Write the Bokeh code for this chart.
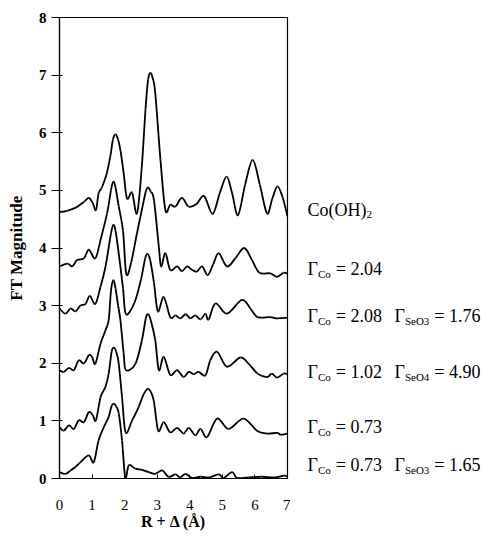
from bokeh.plotting import figure
from bokeh.models import Range1d, FixedTicker, ColumnDataSource
from bokeh.layouts import row
from bokeh.core.properties import value
from bokeh.embed import file_html
from bokeh.resources import INLINE

# ---- data ----
x_ticks = [0, 1, 2, 3, 4, 5, 6, 7]
y_ticks = [0, 1, 2, 3, 4, 5, 6, 7, 8]

r1 = [0, 0.25, 0.5, 0.75, 0.9, 1.02, 1.12, 1.2, 1.3, 1.44, 1.56, 1.64, 1.72, 1.8, 1.87, 1.97, 2.04, 2.1, 2.23, 2.38,
      2.52, 2.64, 2.72, 2.79, 2.86, 2.94, 3.1, 3.25, 3.4, 3.56, 3.76, 3.96, 4.2, 4.44, 4.7, 4.92, 5.13, 5.3, 5.48,
      5.7, 5.93, 6.15, 6.37, 6.53, 6.69, 6.85, 7.0]
v1 = [4.62, 4.65, 4.7, 4.8, 4.87, 4.78, 4.66, 4.95, 5.05, 5.27, 5.59, 5.88, 5.97, 5.88, 5.7, 5.3, 4.95, 4.85, 4.96, 4.6,
      5.36, 6.4, 6.92, 7.04, 6.95, 6.69, 5.53, 4.66, 4.75, 4.72, 4.87, 4.72, 4.76, 4.9, 4.59, 4.95, 5.24, 4.95, 4.57,
      5.1, 5.53, 5.1, 4.6, 4.85, 5.07, 4.88, 4.55]

r2 = [0, 0.24, 0.39, 0.54, 0.75, 0.9, 1.1, 1.26, 1.46, 1.58, 1.65, 1.72, 1.82, 1.95, 2.05, 2.2, 2.38, 2.59, 2.66, 2.72,
      2.8, 2.9, 3.05, 3.12, 3.25, 3.4, 3.61, 3.76, 3.92, 4.07, 4.22, 4.38, 4.55, 4.72, 4.89, 5.14, 5.4, 5.67, 5.91,
      6.14, 6.47, 6.68, 6.88, 7.0]
v2 = [3.68, 3.73, 3.68, 3.79, 3.82, 3.97, 3.82, 4.14, 4.6, 5.0, 5.15, 5.05, 4.72, 4.3, 3.55, 3.75, 4.26, 4.83, 5.0, 5.05,
      4.98, 4.83, 4.02, 3.68, 3.91, 3.62, 3.68, 3.6, 3.68, 3.62, 3.59, 3.68, 3.53, 3.72, 3.91, 3.68, 3.82, 4.0, 3.79,
      3.57, 3.56, 3.5, 3.57, 3.55]

r3 = [0, 0.18, 0.34, 0.49, 0.64, 0.8, 0.93, 1.1, 1.26, 1.41, 1.58, 1.65, 1.72, 1.82, 1.95, 2.04, 2.3, 2.5, 2.63, 2.7,
      2.78, 2.9, 3.02, 3.2, 3.4, 3.56, 3.71, 3.87, 4.02, 4.17, 4.33, 4.48, 4.58, 4.79, 5.14, 5.6, 5.86, 6.08, 6.47,
      6.68, 7.0]
v3 = [2.95, 2.86, 2.95, 2.9, 3.0, 3.03, 3.17, 3.03, 3.33, 3.67, 4.25, 4.4, 4.3, 3.9, 3.3, 2.85, 3.05, 3.45, 3.82, 3.9,
      3.8, 3.4, 2.9, 3.15, 2.8, 2.83, 2.78, 2.85, 2.78, 2.83, 2.76, 2.86, 2.76, 3.04, 2.86, 3.1, 2.95, 2.8, 2.8,
      2.78, 2.79]

r4 = [0, 0.13, 0.29, 0.44, 0.59, 0.75, 0.9, 1.0, 1.1, 1.26, 1.41, 1.51, 1.58, 1.65, 1.72, 1.8, 1.87, 1.97, 2.04, 2.33,
      2.53, 2.65, 2.72, 2.8, 2.94, 3.05, 3.2, 3.4, 3.61, 3.81, 3.97, 4.12, 4.27, 4.48, 4.63, 4.84, 5.14, 5.55, 5.81,
      6.08, 6.37, 6.52, 6.68, 6.88, 7.0]
v4 = [1.88, 1.85, 1.92, 1.88, 2.05, 2.0, 2.14, 2.11, 1.99, 2.34, 2.57, 2.75, 3.25, 3.44, 3.3, 3.0, 2.75, 2.17, 1.88, 1.99,
      2.4, 2.78, 2.85, 2.75, 2.4, 1.88, 2.11, 1.8, 1.88, 1.76, 1.85, 1.81, 1.85, 1.79, 2.05, 2.2, 1.94, 2.1, 1.99,
      1.82, 1.76, 1.82, 1.75, 1.82, 1.81]

r5 = [0, 0.13, 0.29, 0.44, 0.59, 0.75, 0.9, 1.02, 1.12, 1.26, 1.41, 1.51, 1.6, 1.67, 1.74, 1.82, 1.92, 2.03, 2.23,
      2.43, 2.59, 2.74, 2.89, 3.03, 3.2, 3.4, 3.61, 3.81, 3.97, 4.17, 4.33, 4.53, 4.84, 5.19, 5.65, 6.06, 6.37, 6.68,
      6.8, 7.0]
v5 = [0.89, 0.83, 0.92, 0.86, 1.01, 0.98, 1.15, 1.1, 1.01, 1.41, 1.59, 1.82, 2.2, 2.27, 2.2, 1.99, 1.41, 0.8, 1.01,
      1.24, 1.47, 1.55, 1.36, 0.83, 0.98, 0.8, 0.88, 0.78, 0.88, 0.75, 0.86, 0.72, 1.04, 0.86, 1.04, 0.83, 0.78, 0.79,
      0.76, 0.78]

r6 = [0, 0.18, 0.34, 0.49, 0.64, 0.9, 1.05, 1.2, 1.36, 1.51, 1.6, 1.67, 1.74, 1.82, 1.92, 2.02, 2.13, 2.33, 2.53, 2.74,
      2.94, 3.15, 3.35, 3.56, 3.71, 3.87, 4.07, 4.33, 4.6, 4.89, 5.04, 5.3, 5.45, 5.8, 6.2, 6.6, 6.9, 7.0]
v6 = [0.11, 0.08, 0.14, 0.2, 0.28, 0.4, 0.28, 0.66, 0.89, 1.07, 1.26, 1.3, 1.25, 1.13, 0.66, 0.02, 0.23, 0.17, 0.15,
      0.11, 0.08, 0.14, 0.03, 0.07, 0.02, 0.08, 0.01, 0.03, 0.02, 0.07, 0.01, 0.11, 0.01, 0.02, 0.03, 0.02, 0.05, 0.03]

series = [(r1, v1), (r2, v2), (r3, v3), (r4, v4), (r5, v5), (r6, v6)]

# label texts: groups of (text, is_subscript) pieces, and the data y of each label row
label_groups = [
    [[("Co(OH)", False), ("2", True)]],
    [[("\u0393", False), ("Co", True), ("= 2.04", False)]],
    [[("\u0393", False), ("Co", True), ("= 2.08", False)], [("\u0393", False), ("SeO3", True), ("= 1.76", False)]],
    [[("\u0393", False), ("Co", True), ("= 1.02", False)], [("\u0393", False), ("SeO4", True), ("= 4.90", False)]],
    [[("\u0393", False), ("Co", True), ("= 0.73", False)]],
    [[("\u0393", False), ("Co", True), ("= 0.73", False)], [("\u0393", False), ("SeO3", True), ("= 1.65", False)]],
]
label_y = [4.66, 3.63, 2.82, 1.84, 0.89, 0.23]

# ---- layout constants ----
SERIF = "Liberation Serif"
TOP, BOTTOM = 17, 58
H = 536
MAIN_W = 290        # frame from x=59 to 287
LAB_W = 483 - MAIN_W

p = figure(width=MAIN_W, height=H, output_backend="svg", toolbar_location=None,
           x_range=Range1d(0, 7), y_range=Range1d(0, 8),
           min_border_left=59, min_border_right=3, min_border_top=TOP, min_border_bottom=BOTTOM)
p.background_fill_color = "white"
p.border_fill_color = "white"
p.grid.visible = False
p.outline_line_color = "black"
p.outline_line_width = 1.2


def smooth_segments(r, v):
    """Catmull-Rom style control points for drawing the read points as a smooth curve."""
    n = len(r)
    out = {k: [] for k in ("x0", "y0", "x1", "y1", "cx0", "cy0", "cx1", "cy1")}
    for i in range(n - 1):
        a = max(i - 1, 0)
        d = min(i + 2, n - 1)
        out["x0"].append(r[i]); out["y0"].append(v[i])
        out["x1"].append(r[i + 1]); out["y1"].append(v[i + 1])
        out["cx0"].append(r[i] + (r[i + 1] - r[a]) / 6.0)
        out["cy0"].append(v[i] + (v[i + 1] - v[a]) / 6.0)
        out["cx1"].append(r[i + 1] - (r[d] - r[i]) / 6.0)
        out["cy1"].append(v[i + 1] - (v[d] - v[i]) / 6.0)
    return out


for r, v in series:
    src = ColumnDataSource(smooth_segments(r, v))
    p.bezier(x0="x0", y0="y0", x1="x1", y1="y1", cx0="cx0", cy0="cy0", cx1="cx1", cy1="cy1",
             source=src, line_color="black", line_width=1.8)

p.xaxis.ticker = FixedTicker(ticks=x_ticks)
p.yaxis.ticker = FixedTicker(ticks=y_ticks)
for ax in (p.xaxis[0], p.yaxis[0]):
    ax.axis_line_color = "black"
    ax.axis_line_width = 1.2
    ax.major_tick_line_color = "black"
    ax.minor_tick_line_color = None
    ax.major_label_text_font = SERIF
    ax.major_label_text_color = "black"
    ax.axis_label_text_font = SERIF
    ax.axis_label_text_font_style = "bold"
    ax.axis_label_text_color = "black"

p.xaxis.axis_label = "R + \u0394 (\u00c5)"
p.xaxis.axis_label_text_font_size = "16px"
p.xaxis.major_label_text_font_size = "15px"
p.xaxis.major_tick_in = 4
p.xaxis.major_tick_out = 0
p.xaxis.major_label_standoff = 21
p.xaxis.axis_label_standoff = 0

p.yaxis.axis_label = "FT Magnitude"
p.yaxis.axis_label_text_font_size = "17px"
p.yaxis.major_label_text_font_size = "15px"
p.yaxis.major_label_text_font_style = "bold"
p.yaxis.major_tick_in = 3
p.yaxis.major_tick_out = 8
p.yaxis.major_label_standoff = 5
p.yaxis.axis_label_standoff = 10

# ---- right-hand labels, in a companion panel sharing the y range ----
q = figure(width=LAB_W, height=H, output_backend="svg", toolbar_location=None,
           x_range=Range1d(0, LAB_W), y_range=p.y_range, x_axis_type=None, y_axis_type=None,
           min_border_left=0, min_border_right=0, min_border_top=TOP, min_border_bottom=BOTTOM)
q.grid.visible = False
q.outline_line_color = None
q.background_fill_color = "white"
q.border_fill_color = "white"

CW = {"\u0393": 0.578, "C": 0.667, "o": 0.5, "S": 0.556, "e": 0.444, "O": 0.722, "H": 0.722,
      "(": 0.333, ")": 0.333, ".": 0.25, "=": 0.564, " ": 0.25}
MAIN, SUB = 18, 11
SUB_GAP = 5
GROUP_X = [17, 104]


def width(s, size):
    return sum(CW.get(c, 0.5) for c in s) * size


main_src = {"x": [], "y": [], "t": []}
sub_src = {"x": [], "y": [], "t": []}
for groups, y in zip(label_groups, label_y):
    for gi, parts in enumerate(groups):
        x = GROUP_X[gi]
        for s, sub in parts:
            d = sub_src if sub else main_src
            d["x"].append(x); d["y"].append(y); d["t"].append(s)
            x += width(s, SUB) + SUB_GAP if sub else width(s, MAIN)

q.text(x="x", y="y", text="t", source=ColumnDataSource(main_src), text_font=value(SERIF),
       text_font_size=value(f"{MAIN}px"), text_color="black", text_baseline="middle", text_align="left")
q.text(x="x", y="y", text="t", source=ColumnDataSource(sub_src), text_font=value(SERIF),
       text_font_size=value(f"{SUB}px"), text_color="black", text_baseline="middle", text_align="left",
       y_offset=5)

layout = row(p, q)
open("out.html", "w").write(file_html(layout, INLINE))
